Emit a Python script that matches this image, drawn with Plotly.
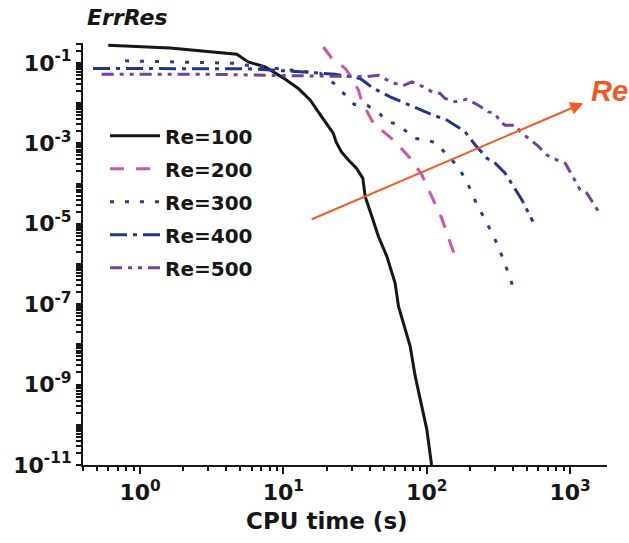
import math
import plotly.graph_objects as go

# ---------------- data ----------------
x_re100 = [0.60, 1.62, 4.73, 5.67, 7.45, 9.95, 12.7, 15.4, 18.5, 22.3, 23.3, 25.4, 28.5, 32.3,
           35.8, 37.2, 41.4, 46.0, 52.7, 60.1, 63.5, 68.8, 76.6, 83.0, 92.4, 100, 108]
y_re100 = [0.275, 0.236, 0.164, 0.106, 0.080, 0.0425, 0.0232, 0.0119, 0.00457, 0.00177, 1.08e-3,
           6.1e-4, 3.8e-4, 2.4e-4, 1.35e-4, 4.73e-5, 1.51e-5, 4.81e-6, 1.53e-6, 3.36e-7, 8.8e-8,
           3.41e-8, 8.97e-9, 1.62e-9, 2.91e-10, 7.7e-11, 1.0e-11]

x_re200 = [19.0, 21.8, 27.0, 29.2, 33.4, 35.2, 42.5, 58.6, 78.7, 92.4, 111, 127, 142, 162]
y_re200 = [0.249, 0.129, 0.0726, 0.0496, 0.021, 0.0108, 0.00313, 0.00121, 3.85e-4, 1.63e-4,
           3.92e-5, 1.38e-5, 4.4e-6, 1.15e-6]

x_re300 = [0.786, 1.90, 4.46, 5.58, 11.1, 18.0, 22.9, 27.0, 31.1, 38.4, 47.3, 52.9, 62.1, 72.6,
           80.7, 100, 118, 138, 166, 195, 224, 256, 285, 316, 352, 382, 403]
y_re300 = [0.113, 0.107, 0.098, 0.0877, 0.066, 0.0555, 0.0296, 0.0158, 0.0093, 0.0089, 0.00533,
           0.00344, 0.00301, 0.00194, 0.00133, 0.00121, 0.0010, 5.13e-4, 2.63e-4, 9.2e-5,
           2.94e-5, 1.25e-5, 5.85e-6, 2.72e-6, 9.55e-7, 4.47e-7, 2.29e-7]

x_re400 = [0.47, 1.62, 5.58, 13.1, 22.9, 34.3, 42.3, 55.5, 67.0, 89.9, 111, 138, 185, 218, 263,
           300, 352, 403, 461, 500, 550]
y_re400 = [0.0726, 0.073, 0.0718, 0.0605, 0.0525, 0.041, 0.0236, 0.0143, 0.0108, 0.0067,
           0.00504, 0.00379, 0.00194, 9.08e-4, 4.25e-4, 3.19e-4, 1.8e-4, 8.4e-5, 3.92e-5,
           2.21e-5, 1.14e-5]

x_re500 = [0.54, 2.62, 13.1, 26.1, 38.2, 45.8, 57.0, 68.4, 78.7, 94.8, 109, 124, 134, 158, 190,
           229, 269, 300, 325, 352, 414, 449, 513, 587, 689, 809, 925, 1057, 1175, 1309, 1456, 1578]
y_re500 = [0.0525, 0.0525, 0.048, 0.0468, 0.0455, 0.0496, 0.0327, 0.0272, 0.0338, 0.0254, 0.019,
           0.0174, 0.0131, 0.0108, 0.0124, 0.0089, 0.00608, 0.00555, 0.00343, 0.00284, 0.00284,
           0.00194, 0.00133, 9.08e-4, 5.13e-4, 3.85e-4, 3.19e-4, 1.35e-4, 6.94e-5, 5.74e-5,
           3.24e-5, 2.01e-5]

series_names = ["Re=100", "Re=200", "Re=300", "Re=400", "Re=500"]
series_x = [x_re100, x_re200, x_re300, x_re400, x_re500]
series_y = [y_re100, y_re200, y_re300, y_re400, y_re500]
series_colors = ["#161616", "#cc56ac", "#2b3a96", "#25348e", "#7043a2"]
series_dash = ["solid", "14px,12px", "4px,11px", "17px,6px,4px,6px", "12px,6px,4px,6px,4px,6px"]

x_tick_vals = [1, 10, 100, 1000]
x_tick_text = ["10<sup>0</sup>", "10<sup>1</sup>", "10<sup>2</sup>", "10<sup>3</sup>"]

# y ticks: every decade plus 2..9 x 10^n; labels only on odd decades
y_tick_vals = []
y_tick_text = []
for e in range(-11, 0):
    for k in range(1, 10):
        v = k * 10.0 ** e
        if v > 0.31:
            continue
        y_tick_vals.append(v)
        y_tick_text.append(("10<sup>%d</sup>" % e) if (k == 1 and e % 2 != 0) else " ")

# arrow (data coordinates: tail -> head)
arrow_tail = (15.4, 1.25e-5)
arrow_head = (1234, 0.010)

FONT = "DejaVu Sans"
ORANGE = "#f15a24"
INK = "#161616"
Y_RANGE = [-11, -0.504]

fig = go.Figure()
for i, (nm, xs, ys, col, ds) in enumerate(zip(series_names, series_x, series_y, series_colors, series_dash)):
    fig.add_trace(go.Scatter(x=xs, y=ys, mode="lines", name=nm, legendgroup="g%d" % i,
                             line=dict(color=col, width=3, dash=ds)))

axis_common = dict(type="log", showgrid=False, zeroline=False, showline=True,
                   linecolor=INK, linewidth=2, ticks="outside",
                   tickcolor=INK, mirror=False,
                   tickfont=dict(family=FONT, size=22, color=INK, weight="bold"))

fig.update_layout(
    xaxis=dict(**axis_common, range=[-0.398, 3.257], tickmode="array", ticklen=7, tickwidth=2,
               tickvals=x_tick_vals, ticktext=x_tick_text,
               minor=dict(ticks="outside", ticklen=4, tickwidth=1.5, tickcolor=INK, dtick="D1",
                          showgrid=False)),
    yaxis=dict(**axis_common, range=Y_RANGE, tickmode="array", ticklen=5, tickwidth=1.5,
               tickvals=y_tick_vals, ticktext=y_tick_text),
)

fig.add_annotation(xref="x", yref="y", axref="x", ayref="y",
                   x=math.log10(arrow_head[0]), y=math.log10(arrow_head[1]),
                   ax=math.log10(arrow_tail[0]), ay=math.log10(arrow_tail[1]),
                   text="", showarrow=True, arrowhead=2, arrowsize=1.3, arrowwidth=2,
                   arrowcolor=ORANGE, standoff=0, startstandoff=0)

fig.add_annotation(xref="paper", yref="paper", x=1.0057, y=0.8868, xanchor="center", yanchor="middle",
                   text="Re", showarrow=False,
                   font=dict(family="Liberation Sans", size=29, color=ORANGE, weight="bold", style="italic"))

fig.add_annotation(xref="paper", yref="paper", x=0.003, y=1.0597, xanchor="left", yanchor="middle",
                   text="ErrRes", showarrow=False,
                   font=dict(family=FONT, size=22, color=INK, weight="bold", style="italic"))

fig.add_annotation(xref="paper", yref="paper", x=0.4666, y=-0.1326, xanchor="center", yanchor="middle",
                   text="CPU time (s)", showarrow=False,
                   font=dict(family=FONT, size=23, color=INK, weight="bold"))

fig.update_layout(
    width=629, height=543,
    margin=dict(l=83, r=22, t=43, b=78),
    paper_bgcolor="white", plot_bgcolor="white",
    showlegend=True,
    legend=dict(x=0.042, y=0.8264, xanchor="left", yanchor="top", bgcolor="rgba(0,0,0,0)",
                borderwidth=0, traceorder="grouped", tracegroupgap=4, itemwidth=50,
                font=dict(family=FONT, size=20, color=INK, weight="bold")),
)

fig.write_html("out.html")
